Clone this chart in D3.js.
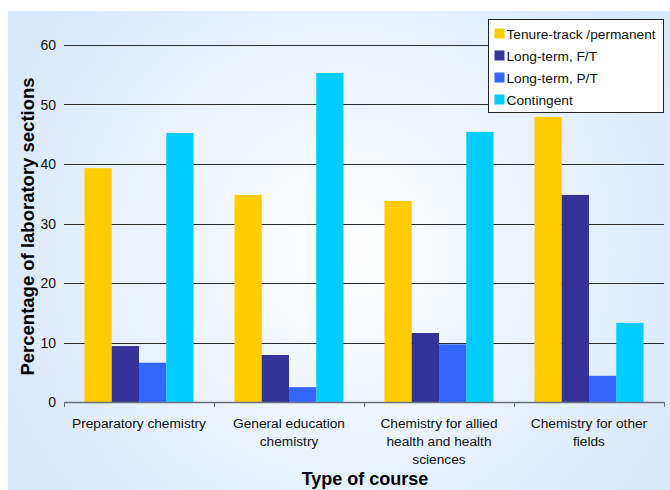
<!DOCTYPE html>
<html>
<head>
<meta charset="utf-8">
<script src="https://cdn.jsdelivr.net/npm/d3@7"></script>
<style>
  html, body { margin: 0; padding: 0; background: #ffffff; }
  svg { display: block; font-family: "Liberation Sans", Arial, sans-serif; }
</style>
</head>
<body>
<svg id="chart" width="670" height="490"></svg>
<script>
// Course types (each label split into its display lines)
const categories = [
  ["Preparatory chemistry"],
  ["General education", "chemistry"],
  ["Chemistry for allied", "health and health", "sciences"],
  ["Chemistry for other", "fields"]
];
const seriesNames = ["Tenure-track /permanent", "Long-term, F/T", "Long-term, P/T", "Contingent"];
const seriesColors = ["#ffcc00", "#333399", "#3366ff", "#00ccff"];
const tenureTrack = [39.3, 34.8, 33.8, 47.9];
const longTermFT = [9.4, 7.9, 11.6, 34.8];
const longTermPT = [6.6, 2.5, 9.7, 4.4];
const contingent = [45.2, 55.3, 45.4, 13.3];
const yTicks = [0, 10, 20, 30, 40, 50, 60];

const seriesValues = [tenureTrack, longTermFT, longTermPT, contingent];

const svg = d3.select("#chart");
const W = 670, H = 490;

// Soft radial background panel
const defs = svg.append("defs");
const grad = defs.append("radialGradient")
  .attr("id", "bg").attr("gradientUnits", "userSpaceOnUse")
  .attr("cx", 345).attr("cy", 250).attr("r", 380);
grad.append("stop").attr("offset", "0%").attr("stop-color", "#ffffff");
grad.append("stop").attr("offset", "100%").attr("stop-color", "#d8e8fb");
svg.append("rect").attr("x", 8).attr("y", 11).attr("width", W - 8).attr("height", H - 11)
  .attr("fill", "url(#bg)");

const plot = { left: 64, right: 664, top: 45, bottom: 402 };

const x0 = d3.scaleBand().domain(d3.range(categories.length))
  .range([plot.left, plot.right]).paddingInner(0).paddingOuter(0);
const x1 = d3.scaleBand().domain(d3.range(seriesNames.length))
  .range([0, x0.bandwidth()]).paddingOuter(0.75).paddingInner(0);
const y = d3.scaleLinear().domain([0, 60]).range([plot.bottom, plot.top]);

// Horizontal gridlines
svg.append("g").selectAll("line").data(yTicks.filter(d => d > 0)).join("line")
  .attr("x1", plot.left).attr("x2", plot.right)
  .attr("y1", d => Math.round(y(d)) + 0.5).attr("y2", d => Math.round(y(d)) + 0.5)
  .attr("stroke", "#2a2a2a").attr("stroke-width", 1);

// Bars
const groups = svg.append("g").selectAll("g").data(categories).join("g")
  .attr("transform", (d, i) => `translate(${x0(i)},0)`);
groups.selectAll("rect")
  .data((d, i) => seriesValues.map((vals, s) => ({ s, v: vals[i] })))
  .join("rect")
  .attr("x", d => x1(d.s))
  .attr("width", x1.bandwidth())
  .attr("y", d => y(d.v))
  .attr("height", d => y(0) - y(d.v))
  .attr("fill", d => seriesColors[d.s]);

// X axis line with category boundary ticks
const xAxis = svg.append("g");
xAxis.append("line")
  .attr("x1", plot.left).attr("x2", plot.right)
  .attr("y1", plot.bottom + 0.5).attr("y2", plot.bottom + 0.5)
  .attr("stroke", "#6a7080").attr("stroke-width", 1.6);
xAxis.selectAll("line.tick").data(d3.range(categories.length + 1)).join("line")
  .attr("class", "tick")
  .attr("x1", i => (i < categories.length ? x0(i) : plot.right) + 0.5)
  .attr("x2", i => (i < categories.length ? x0(i) : plot.right) + 0.5)
  .attr("y1", plot.bottom).attr("y2", plot.bottom + 5)
  .attr("stroke", "#6a7080").attr("stroke-width", 1);

// Category labels
const catLabels = svg.append("g").selectAll("text").data(categories).join("text")
  .attr("x", (d, i) => x0(i) + x0.bandwidth() / 2)
  .attr("y", 428)
  .attr("text-anchor", "middle")
  .attr("font-size", 13.7)
  .attr("fill", "#111");
catLabels.selectAll("tspan").data(d => d).join("tspan")
  .attr("x", function () { return d3.select(this.parentNode).attr("x"); })
  .attr("dy", (d, i) => i === 0 ? 0 : 18)
  .text(d => d);

// Y tick labels
svg.append("g").selectAll("text").data(yTicks).join("text")
  .attr("x", 56).attr("y", d => y(d) + 5)
  .attr("text-anchor", "end").attr("font-size", 14).attr("fill", "#111")
  .text(d => d);

// Axis titles
svg.append("text")
  .attr("transform", `translate(34,${(plot.top + plot.bottom) / 2 + 3}) rotate(-90)`)
  .attr("text-anchor", "middle").attr("font-size", 18.5).attr("font-weight", "bold")
  .attr("fill", "#000").text("Percentage of laboratory sections");
svg.append("text")
  .attr("x", (plot.left + plot.right) / 2 + 1).attr("y", 485)
  .attr("text-anchor", "middle").attr("font-size", 18).attr("font-weight", "bold")
  .attr("fill", "#000").text("Type of course");

// Legend
const legend = svg.append("g").attr("transform", "translate(488.5,19.5)");
legend.append("rect").attr("width", 175).attr("height", 93)
  .attr("fill", "#ffffff").attr("stroke", "#222").attr("stroke-width", 1);
const items = legend.selectAll("g").data(seriesNames).join("g")
  .attr("transform", (d, i) => `translate(6,${14 + i * 22})`);
items.append("rect").attr("x", 0).attr("y", -5).attr("width", 10).attr("height", 10)
  .attr("fill", (d, i) => seriesColors[i]);
items.append("text").attr("x", 12).attr("y", 5)
  .attr("font-size", 13.7).attr("fill", "#111").text(d => d);
</script>
</body>
</html>
